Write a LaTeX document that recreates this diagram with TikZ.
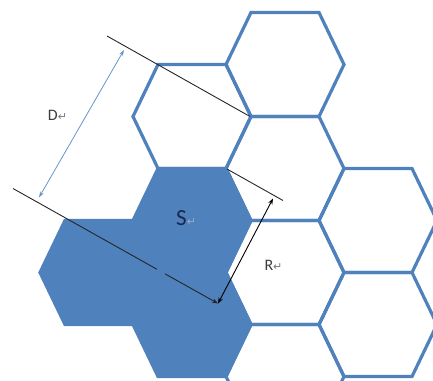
\documentclass[tikz,border=0pt]{standalone}
\usepackage{fontspec}
\setmainfont{Carlito}
\newfontfamily\dejavu{DejaVu Sans}
\usetikzlibrary{arrows.meta}
\definecolor{hexblue}{RGB}{79,129,189}
\definecolor{dblue}{RGB}{100,150,205}
\definecolor{lblgray}{RGB}{60,60,60}
\definecolor{retgray}{RGB}{120,120,120}
\definecolor{sdark}{RGB}{25,40,80}
\definecolor{sret}{RGB}{150,170,200}
\newcommand\retmark{{\dejavu\fontsize{11}{12}\selectfont ↵}}
\tikzset{
  whitehex/.style={draw=hexblue, line width=3.2pt},
  fillhex/.style={draw=hexblue, fill=hexblue, line width=3.2pt},
  refline/.style={draw=black!85, line width=0.9pt},
  darrow/.style={draw=dblue, line width=0.8pt, {Stealth[length=6pt,width=4pt]}-{Stealth[length=6pt,width=4pt]}},
  rarrow/.style={draw=black, line width=0.9pt, {Stealth[length=6pt,width=4.5pt]}-{Stealth[length=6pt,width=4.5pt]}},
  tarrow/.style={draw=black!85, line width=0.9pt, -{Stealth[length=6pt,width=4.5pt]}},
  lbl/.style={inner sep=0pt, font=\fontsize{16}{18}\selectfont, text=lblgray},
}
\begin{document}
\begin{tikzpicture}[x=1pt,y=-1pt]
\useasboundingbox (0,0) rectangle (433,380);
\clip (0,0) rectangle (433,380);
% white hexagons
\foreach \cx/\cy in {285/64.5, 192/116.5, 285/168.5, 285/272.5, 285/376.5, 378/220.5, 378/324.5}
  \draw[whitehex, shift={(\cx,\cy)}] (-59,0) -- (-34,-52) -- (34,-52) -- (59,0) -- (34,52) -- (-34,52) -- cycle;
% filled hexagons
\foreach \cx/\cy in {99/272.5, 192/220.5, 192/324.5}
  \draw[fillhex, shift={(\cx,\cy)}] (-59,0) -- (-34,-52) -- (34,-52) -- (59,0) -- (34,52) -- (-34,52) -- cycle;
% coordinates
\coordinate (l1a) at (107,36);
\coordinate (l1b) at (250,116.5);
\coordinate (l2a) at (13,188.5);
\coordinate (l2g1) at (157,269.3);
\coordinate (l2g2) at (165,273.8);
\coordinate (tip) at (218,303.5);
\coordinate (l3a) at (227,169);
\coordinate (l3b) at (283,200.5);
\coordinate (rtop) at (273,198.5);
\coordinate (dtop) at (124,50);
\coordinate (dbot) at (39,197.5);
% lines
\draw[refline] (l1a) -- (l1b);
\draw[refline] (l2a) -- (l2g1);
\draw[tarrow] (l2g2) -- (tip);
\draw[refline] (l3a) -- (l3b);
\draw[rarrow] (tip) -- (rtop);
\draw[darrow] (dtop) -- (dbot);
% labels
\node[lbl] (dlab) at (57.5,115.5) {D\textcolor{retgray}{\retmark}};
\node[lbl] (rlab) at (273.5,265) {R\textcolor{retgray}{\retmark}};
\node[lbl, anchor=west, font=\fontsize{23}{25}\selectfont, text=sdark] (slab) at (176,218) {S\textcolor{sret}{\retmark}};
\end{tikzpicture}
\end{document}
